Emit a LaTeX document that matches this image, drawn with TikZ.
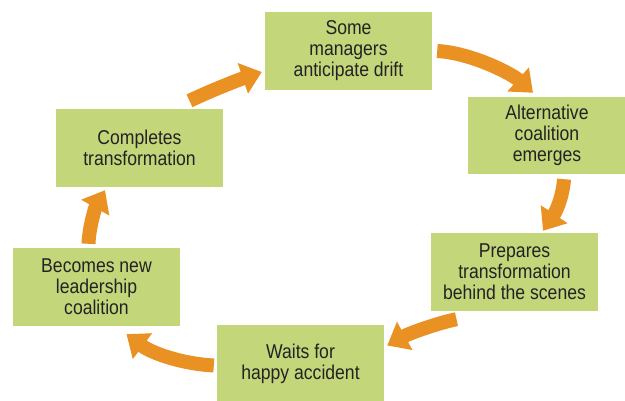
\documentclass[tikz,border=0pt]{standalone}
\usepackage{fontspec}
\setmainfont[FakeStretch=0.88]{Liberation Sans}
\usetikzlibrary{arrows.meta,calc}
\definecolor{boxgreen}{RGB}{195,214,122}
\definecolor{arrorange}{RGB}{234,145,36}
\definecolor{txt}{RGB}{35,35,35}
\begin{document}
\begin{tikzpicture}[x=1pt,y=-1pt,
  stagebox/.style={fill=boxgreen,draw=none,minimum width=167pt,minimum height=78pt,
    inner sep=0pt,align=center,text=txt,font=\fontsize{20pt}{21pt}\selectfont},
  bigarrow/.style={draw=arrorange,line width=14pt,line cap=butt,
    -{Triangle[length=20pt,width=31pt]}}]
\useasboundingbox (0,0) rectangle (625,401);
\node[stagebox] (top) at (348.5,51) {Some\\managers\\anticipate drift};
\node[stagebox,minimum width=158pt,minimum height=77pt] (alt) at (547,135.5) {Alternative\\coalition\\emerges};
\node[stagebox] (prep) at (514.5,272) {Prepares\\transformation\\behind the scenes};
\node[stagebox,minimum height=77pt] (wait) at (300.5,363.5) {Waits for\\happy accident};
\node[stagebox] (becomes) at (96.5,287) {Becomes new\\leadership\\coalition};
\node[stagebox] (complete) at (139.5,148) {Completes\\transformation};
% arrow end points
\coordinate (a1s) at ($(top.east)+(5,0)$);
\coordinate (a1e) at ($(alt.north)+(-14,-4)$);
\coordinate (a2s) at ($(alt.south)+(17,5)$);
\coordinate (a2e) at ($(prep.north)+(28.5,-2)$);
\coordinate (a3s) at ($(prep.south)+(-58,8)$);
\coordinate (a3e) at ($(wait.east)+(3,-18)$);
\coordinate (a4s) at ($(wait.west)+(-3,2)$);
\coordinate (a4e) at ($(becomes.south)+(30,8)$);
\coordinate (a5s) at ($(becomes.north)+(-8,-4)$);
\coordinate (a5e) at ($(complete.south)+(-34.5,3)$);
\coordinate (a6s) at ($(complete.north)+(50,-8)$);
\coordinate (a6e) at ($(top.west)+(-3,21)$);
\draw[bigarrow] (a1s) .. controls (472,53) and (512,74) .. (a1e);
\draw[bigarrow] (a2s) .. controls (563,195) and (557,210) .. (a2e);
\draw[bigarrow] (a3s) .. controls (438,323) and (410,333) .. (a3e);
\draw[bigarrow] (a4s) .. controls (184,364) and (153,354) .. (a4e);
\draw[bigarrow] (a5s) .. controls (89,228) and (95,208) .. (a5e);
\draw[bigarrow] (a6s) .. controls (210,91) and (238,80) .. (a6e);
\end{tikzpicture}
\end{document}
